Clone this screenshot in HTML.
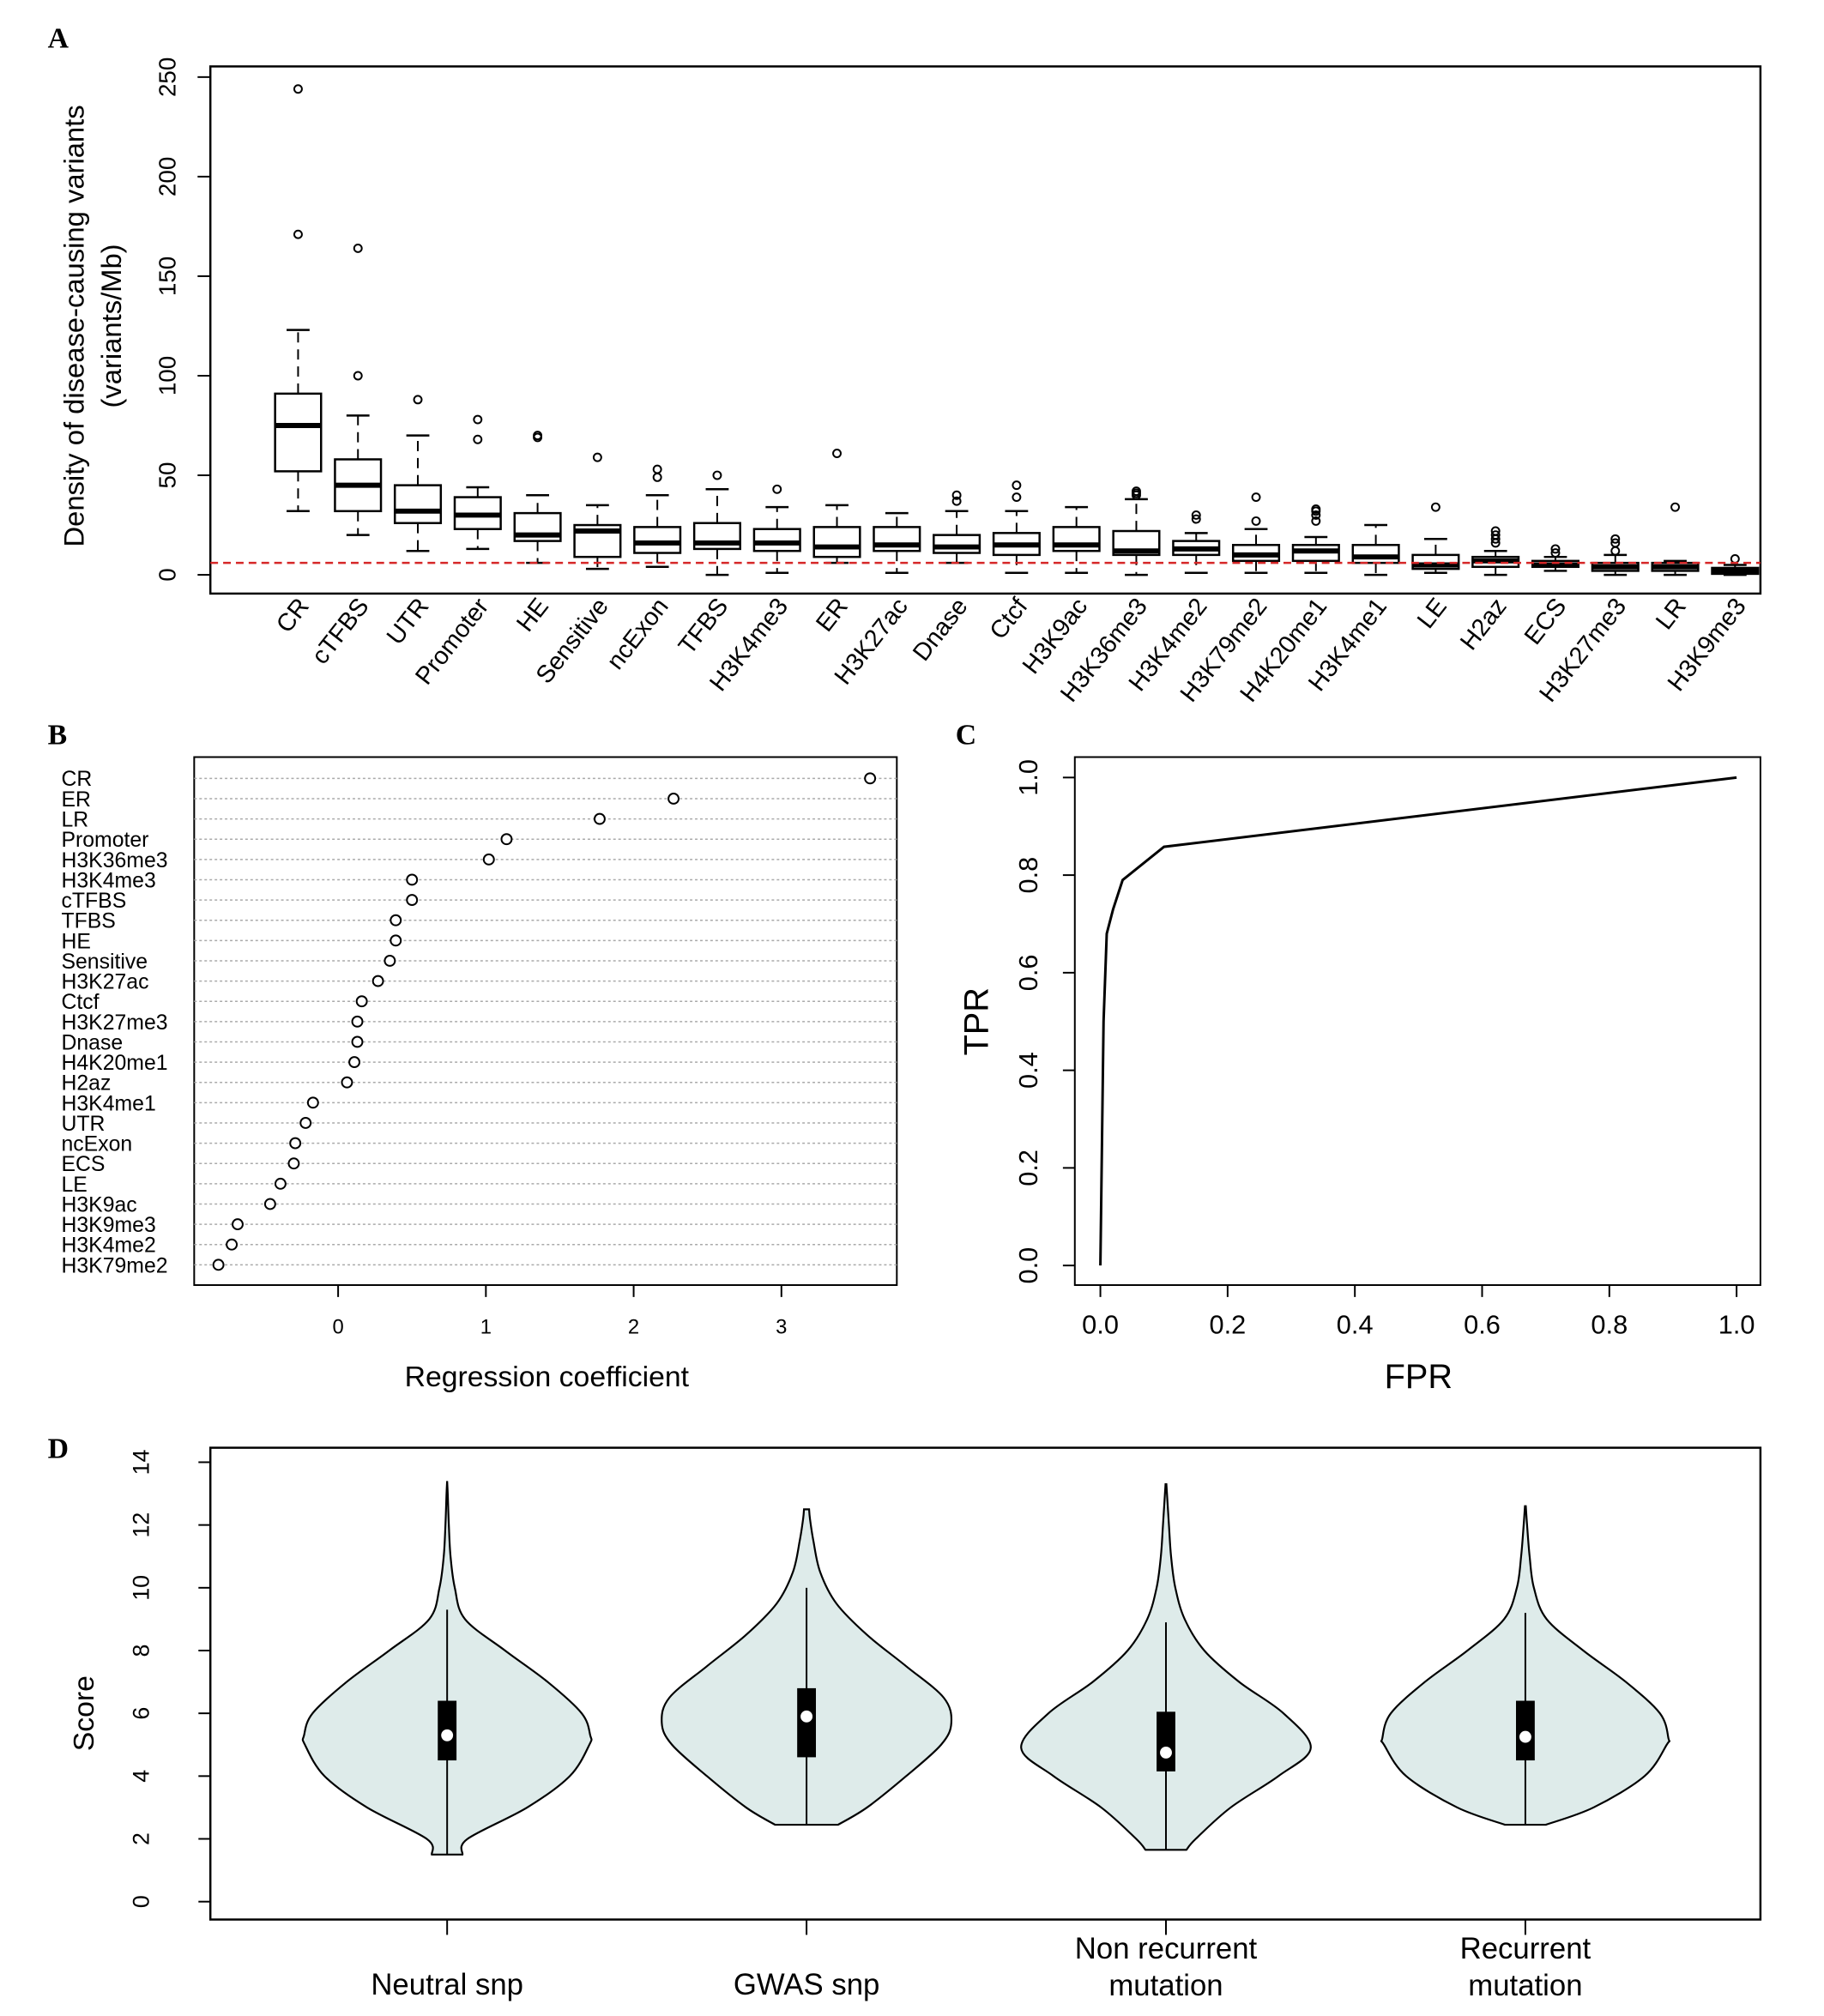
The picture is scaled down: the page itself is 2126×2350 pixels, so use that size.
<!DOCTYPE html>
<html><head><meta charset="utf-8"><style>
html,body{margin:0;padding:0;background:#fff;}
svg{display:block;font-family:"Liberation Sans",sans-serif;}
.nar{font-family:"Liberation Sans Narrow","Liberation Sans",sans-serif;}
</style></head><body>
<svg id="fig" width="2126" height="2350" viewBox="0 0 2126 2350" xmlns="http://www.w3.org/2000/svg">
<g transform="scale(0.9927)">
<text x="56" y="56" font-family="Liberation Serif" font-weight="bold" font-size="34">A</text>
<text x="56" y="874" font-family="Liberation Serif" font-weight="bold" font-size="34">B</text>
<text x="1122" y="874" font-family="Liberation Serif" font-weight="bold" font-size="34">C</text>
<text x="56" y="1712" font-family="Liberation Serif" font-weight="bold" font-size="34">D</text>
<g id="pa"></g>
<g id="pb"></g>
<g id="pc"></g>
<g id="pd"></g>
</g>
</svg>
<script>
// ---- Panel A data ----
const catsA=["CR","cTFBS","UTR","Promoter","HE","Sensitive","ncExon","TFBS","H3K4me3","ER","H3K27ac","Dnase","Ctcf","H3K9ac","H3K36me3","H3K4me2","H3K79me2","H4K20me1","H3K4me1","LE","H2az","ECS","H3K27me3","LR","H3K9me3"];
const lowA=[32,20,12,13,6,3,4,0,1,6,1,6,1,1,0,1,1,1,0,1,0,2,0,0,0];
const q1A=[52,32,26,23,17,9,11,13,12,9,12,11,10,12,10,10,7,7,6,3,4,4,2,2,0.5];
const medA=[75,45,32,30,20,22,16,16,16,14,15,14,15,15,12,13,10,12,9,5,7,5,4,4,2];
const q3A=[91,58,45,39,31,25,24,26,23,24,24,20,21,24,22,17,15,15,15,10,9,7,6,6,3.5];
const highA=[123,80,70,44,40,35,40,43,34,35,31,32,32,34,38,21,23,19,25,18,12,9,10,7,5];
const outA=[[171,244],[100,164],[88],[68,78],[69,70],[59],[49,53],[50],[43],[61],[],[37,40],[39,45],[],[40,41,42],[28,30],[27,39],[27,30,32,33],[],[34],[16,18,20,22],[11,13],[12,16,18],[34],[8]];
const ticksA=[0,50,100,150,200,250];
const refLineA=6;
// ---- Panel B data ----
const catsB=["CR","ER","LR","Promoter","H3K36me3","H3K4me3","cTFBS","TFBS","HE","Sensitive","H3K27ac","Ctcf","H3K27me3","Dnase","H4K20me1","H2az","H3K4me1","UTR","ncExon","ECS","LE","H3K9ac","H3K9me3","H3K4me2","H3K79me2"];
const coefB=[3.6,2.27,1.77,1.14,1.02,0.5,0.5,0.39,0.39,0.35,0.27,0.16,0.13,0.13,0.11,0.06,-0.17,-0.22,-0.29,-0.3,-0.39,-0.46,-0.68,-0.72,-0.81];
const ticksB=[0,1,2,3];
// ---- Panel C data ----
const fprC=[0,0.003,0.005,0.01,0.02,0.035,0.1,1];
const tprC=[0,0.3,0.5,0.68,0.73,0.79,0.858,1];
const ticksC=[0,0.2,0.4,0.6,0.8,1.0];
// ---- Panel D data ----
const catsD=[["Neutral snp"],["GWAS snp"],["Non recurrent","mutation"],["Recurrent","mutation"]];
const q1D=[4.5,4.6,4.15,4.5];
const q3D=[6.4,6.8,6.05,6.4];
const medD=[5.3,5.9,4.75,5.25];
const whiskD=[9.3,10,8.9,9.2];
const minD=[1.5,2.45,1.65,2.45];
const levD0=[1.5,2,3,4,5,5.3,6,7,8,9,10,11,12,13,13.4];
const widD0=[18,24,94,144,167,168,158,118,68,21,9,4,2,0.7,0];
const levD1=[2.45,3,4,5,5.7,6.5,7.5,8.5,9.5,10.5,11.5,12.2,12.5];
const widD1=[37,71,117,158,170,161,117,71,35,16,8,4,3];
const levD2=[1.65,2,3,4,4.9,6,7,8,9,10,11,12,13.3];
const widD2=[24,35,76,132,170,138,86,45,22,11,6,3.5,0.5];
const levD3=[2.45,3,4,5,5.2,6,7,8,9,10,11,12,12.6];
const widD3=[24,80,140,166,168,158,118,68,25,10,5,2,0.5];
const ticksD=[0,2,4,6,8,10,12,14];

const NS="http://www.w3.org/2000/svg";
function mk(tag,parent,attrs){const e=document.createElementNS(NS,tag);for(const k in attrs)e.setAttribute(k,attrs[k]);parent.appendChild(e);return e;}

// ===== Panel A =====
(function(){
const g=document.getElementById('pa');
const L=247,R=2067,T=78,B=697;
const yA=v=>675-v*(675-90.5)/250;
const xA=i=>350+i*70.3;
let e=mk('rect',g,{x:L,y:T,width:R-L,height:B-T,fill:'none',stroke:'#000','stroke-width':2.5});

ticksA.forEach(t=>{
 let l=mk('line',g,{x1:L-15,x2:L,y1:yA(t),y2:yA(t),stroke:'#000','stroke-width':2});
 
 let tx=mk('text',g,{x:206,y:yA(t),'font-size':28,'text-anchor':'middle',transform:`rotate(-90 206 ${yA(t)})`});
 tx.textContent=t;
});
let yt=mk('text',g,{'font-size':33,'text-anchor':'middle',transform:`translate(98 ${yA(125)}) rotate(-90)`});
yt.textContent='Density of disease-causing variants';
let yt2=mk('text',g,{'font-size':33,'text-anchor':'middle',transform:`translate(142 ${yA(125)}) rotate(-90)`});
yt2.textContent='(variants/Mb)';
const hw=27;
catsA.forEach((c,i)=>{
 const x=xA(i);
 const bg=mk('g',g,{});
 mk('line',bg,{x1:x,x2:x,y1:yA(q3A[i]),y2:yA(highA[i]),stroke:'#000','stroke-width':2,'stroke-dasharray':'12 8'});
 mk('line',bg,{x1:x,x2:x,y1:yA(q1A[i]),y2:yA(lowA[i]),stroke:'#000','stroke-width':2,'stroke-dasharray':'12 8'});
 mk('line',bg,{x1:x-hw/2,x2:x+hw/2,y1:yA(highA[i]),y2:yA(highA[i]),stroke:'#000','stroke-width':2.5});
 mk('line',bg,{x1:x-hw/2,x2:x+hw/2,y1:yA(lowA[i]),y2:yA(lowA[i]),stroke:'#000','stroke-width':2.5});
 mk('rect',bg,{x:x-hw,y:yA(q3A[i]),width:2*hw,height:yA(q1A[i])-yA(q3A[i]),fill:'#fff',stroke:'#000','stroke-width':2.5});
 mk('line',bg,{x1:x-hw,x2:x+hw,y1:yA(medA[i]),y2:yA(medA[i]),stroke:'#000','stroke-width':6});
 outA[i].forEach(o=>{mk('circle',bg,{cx:x,cy:yA(o),r:4.5,fill:'none',stroke:'#000','stroke-width':2});});
 const tx=mk('text',g,{'font-size':29,'text-anchor':'end',transform:`translate(${x+14} 712) rotate(-52)`});
 tx.textContent=c;
});
let rl=mk('line',g,{x1:L,x2:R,y1:yA(refLineA),y2:yA(refLineA),stroke:'#d62728','stroke-width':2.5,'stroke-dasharray':'9 6'});

})();

// ===== Panel B =====
(function(){
const g=document.getElementById('pb');
const L=228,R=1053,T=889,B=1509;
const xB=v=>397+v*173.5;
const yB=i=>914+i*23.8;
let e=mk('rect',g,{x:L,y:T,width:R-L,height:B-T,fill:'none',stroke:'#000','stroke-width':2});

catsB.forEach((c,i)=>{
 let l=mk('line',g,{x1:L,x2:R,y1:yB(i),y2:yB(i),stroke:'#aaa','stroke-width':1.5,'stroke-dasharray':'3 3'});
 
 let p=mk('circle',g,{cx:xB(coefB[i]),cy:yB(i),r:6,fill:'#fff',stroke:'#000','stroke-width':2});
 
 let t=mk('text',g,{x:72,y:yB(i)+9,'font-size':25,class:'nar'});
 t.textContent=c;
});
ticksB.forEach(t=>{
 let l=mk('line',g,{x1:xB(t),x2:xB(t),y1:B,y2:B+14,stroke:'#000','stroke-width':2});
 
 let tx=mk('text',g,{x:xB(t),y:1566,'font-size':24,'text-anchor':'middle',class:'nar'});
 tx.textContent=t;
});
let xt=mk('text',g,{x:642,y:1628,'font-size':34,'text-anchor':'middle',class:'nar'});
xt.textContent='Regression coefficient';
})();

// ===== Panel C =====
(function(){
const g=document.getElementById('pc');
const L=1262,R=2067,T=889,B=1509;
const xC=v=>1292+v*(2039-1292);
const yC=v=>1486-v*(1486-913);
let e=mk('rect',g,{x:L,y:T,width:R-L,height:B-T,fill:'none',stroke:'#000','stroke-width':2});

ticksC.forEach(t=>{
 let l=mk('line',g,{x1:L-14,x2:L,y1:yC(t),y2:yC(t),stroke:'#000','stroke-width':2});
 
 let ty=mk('text',g,{'font-size':31,'text-anchor':'middle',transform:`translate(1218 ${yC(t)}) rotate(-90)`});
 ty.textContent=t.toFixed(1);
 let m=mk('line',g,{x1:xC(t),x2:xC(t),y1:B,y2:B+14,stroke:'#000','stroke-width':2});
 
 let tx=mk('text',g,{x:xC(t),y:1566,'font-size':31,'text-anchor':'middle'});
 tx.textContent=t.toFixed(1);
});
let pts=fprC.map((f,i)=>xC(f)+','+yC(tprC[i])).join(' ');
let pl=mk('polyline',g,{points:pts,fill:'none',stroke:'#000','stroke-width':3});

let yt=mk('text',g,{'font-size':40,'text-anchor':'middle',transform:`translate(1160 ${yC(0.5)}) rotate(-90)`});
yt.textContent='TPR';
let xt=mk('text',g,{x:xC(0.5),y:1630,'font-size':40,'text-anchor':'middle'});
xt.textContent='FPR';
})();

// ===== Panel D =====
(function(){
const g=document.getElementById('pd');
const L=247,R=2067,T=1700,B=2254;
const yD=v=>2233-v*(2233-1717)/14;
const xD=i=>525+i*422;
let e=mk('rect',g,{x:L,y:T,width:R-L,height:B-T,fill:'none',stroke:'#000','stroke-width':2.5});

ticksD.forEach(t=>{
 let l=mk('line',g,{x1:L-14,x2:L,y1:yD(t),y2:yD(t),stroke:'#000','stroke-width':2});
 
 let ty=mk('text',g,{'font-size':27,'text-anchor':'middle',transform:`translate(175 ${yD(t)}) rotate(-90)`});
 ty.textContent=t;
});
let yt=mk('text',g,{'font-size':34,'text-anchor':'middle',transform:`translate(110 ${yD(6)}) rotate(-90)`});
yt.textContent='Score';
const levs=[levD0,levD1,levD2,levD3],wids=[widD0,widD1,widD2,widD3];
function smooth(ps){let s='M'+ps[0][0]+','+ps[0][1];for(let k=0;k<ps.length-1;k++){const p0=ps[Math.max(k-1,0)],p1=ps[k],p2=ps[k+1],p3=ps[Math.min(k+2,ps.length-1)];s+=` C${p1[0]+(p2[0]-p0[0])/6},${p1[1]+(p2[1]-p0[1])/6} ${p2[0]-(p3[0]-p1[0])/6},${p2[1]-(p3[1]-p1[1])/6} ${p2[0]},${p2[1]}`;}return s;}
catsD.forEach((c,i)=>{
 const x=xD(i);
 const vg=mk('g',g,{});
 const lv=levs[i],wd=wids[i];
 let right=lv.map((v,k)=>[x+wd[k],yD(v)]);
 let left=lv.map((v,k)=>[x-wd[k],yD(v)]).reverse();
 const sl=smooth(left);
 let d=smooth(right)+' L'+left[0][0]+','+left[0][1]+sl.slice(sl.indexOf('C')-1)+'Z';
 mk('path',vg,{d:d,fill:'#deebea',stroke:'#000','stroke-width':2.2});
 mk('line',vg,{x1:x,x2:x,y1:yD(minD[i]),y2:yD(whiskD[i]),stroke:'#000','stroke-width':2});
 mk('rect',vg,{x:x-11,y:yD(q3D[i]),width:22,height:yD(q1D[i])-yD(q3D[i]),fill:'#000'});
 mk('circle',vg,{cx:x,cy:yD(medD[i]),r:7,fill:'#fff'});
 let tk=mk('line',g,{x1:x,x2:x,y1:B,y2:B+18,stroke:'#000','stroke-width':2});
 
 c.forEach((line,k)=>{
  const yy=c.length===1?2342:2300+k*43;
  let t=mk('text',g,{x:x,y:yy,'font-size':35,'text-anchor':'middle',class:'nar'});
  t.textContent=line;
 });
});
})();
</script>
</body></html>
